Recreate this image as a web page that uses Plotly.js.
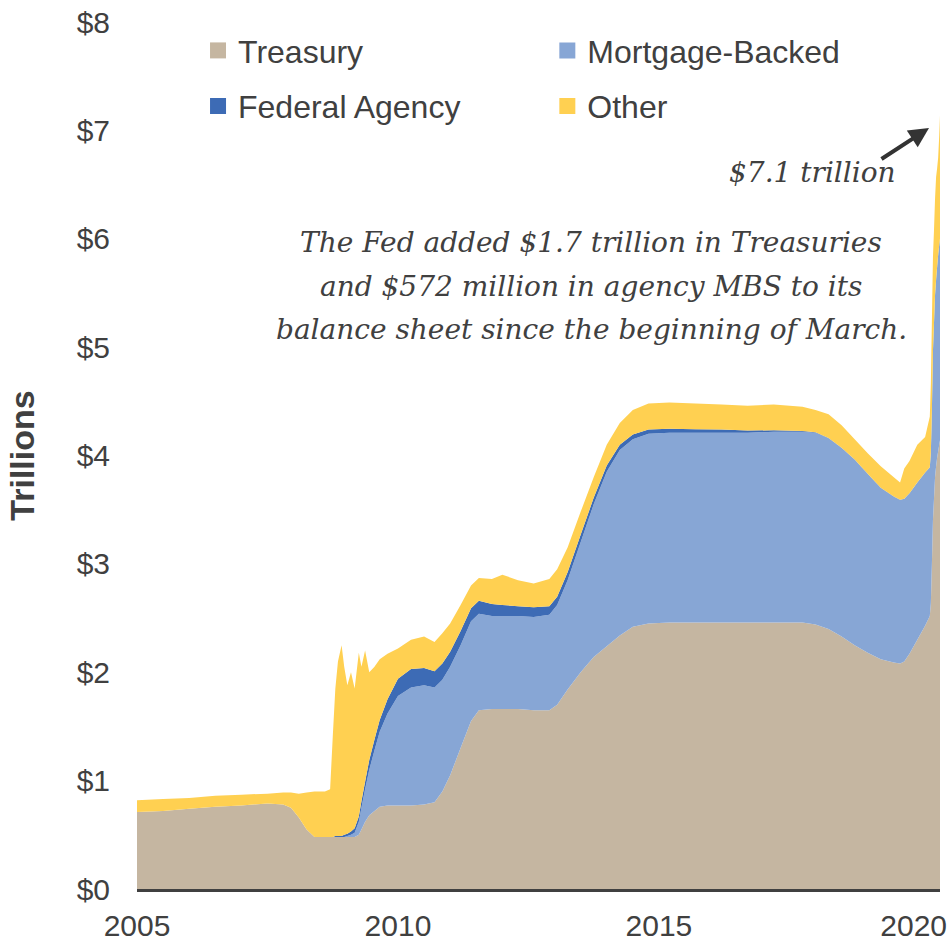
<!DOCTYPE html>
<html><head><meta charset="utf-8">
<script src="https://cdn.plot.ly/plotly-3.0.1.min.js"></script>
<style>html,body{margin:0;padding:0;background:#fff}#chart{width:949px;height:944px}</style>
</head><body><div id="chart"></div>
<script>
// Decimal years
const years = [2005.00,2005.50,2006.00,2006.50,2007.00,2007.50,2007.80,2007.95,2008.10,2008.25,
  2008.40,2008.60,2008.70,2008.75,2008.80,2008.85,2008.92,2008.97,2009.03,2009.10,
  2009.17,2009.25,2009.30,2009.37,2009.45,2009.55,2009.65,2009.80,2010.00,2010.25,
  2010.50,2010.70,2010.85,2011.00,2011.20,2011.40,2011.55,2011.80,2012.00,2012.30,
  2012.60,2012.90,2013.05,2013.25,2013.50,2013.75,2014.00,2014.25,2014.50,2014.80,
  2015.20,2015.70,2016.20,2016.70,2017.20,2017.75,2018.00,2018.25,2018.50,2018.75,
  2019.00,2019.25,2019.50,2019.62,2019.70,2019.80,2019.95,2020.10,2020.19,2020.21,
  2020.23,2020.25,2020.27,2020.29,2020.31,2020.33,2020.35,2020.37,2020.385];
// Trillions of dollars
const treasury = [0.71,0.72,0.74,0.76,0.77,0.79,0.78,0.75,0.66,0.55,
  0.48,0.48,0.48,0.48,0.48,0.48,0.48,0.48,0.48,0.48,
  0.48,0.50,0.55,0.62,0.68,0.72,0.76,0.77,0.77,0.77,
  0.78,0.80,0.90,1.05,1.30,1.55,1.65,1.66,1.66,1.66,
  1.65,1.65,1.70,1.84,2.00,2.14,2.24,2.34,2.42,2.45,
  2.46,2.46,2.46,2.46,2.46,2.46,2.44,2.40,2.33,2.25,
  2.18,2.12,2.09,2.08,2.10,2.17,2.30,2.43,2.52,2.64,
  3.00,3.40,3.60,3.80,3.90,3.98,4.04,4.10,4.14];
const mortgageBacked = [0,0,0,0,0,0,0,0,0,0,
  0,0,0,0,0,0,0,0,0.01,0.02,
  0.04,0.12,0.20,0.30,0.42,0.56,0.69,0.85,1.01,1.09,
  1.10,1.06,1.03,1.00,0.95,0.92,0.89,0.86,0.86,0.86,
  0.86,0.88,0.92,1.01,1.20,1.41,1.61,1.71,1.73,1.75,
  1.75,1.75,1.75,1.75,1.76,1.76,1.77,1.76,1.74,1.71,
  1.65,1.58,1.53,1.51,1.50,1.48,1.45,1.41,1.37,1.39,
  1.42,1.56,1.62,1.68,1.72,1.76,1.81,1.84,1.86];
const federalAgency = [0,0,0,0,0,0,0,0,0,0,
  0,0,0,0,0.01,0.01,0.01,0.02,0.02,0.03,
  0.04,0.05,0.06,0.07,0.09,0.10,0.11,0.13,0.16,0.17,
  0.16,0.15,0.15,0.14,0.13,0.12,0.12,0.11,0.10,0.09,
  0.09,0.08,0.077,0.073,0.068,0.06,0.057,0.05,0.043,0.04,
  0.037,0.033,0.03,0.02,0.013,0.006,0.004,0.002,0.002,0.002,
  0.002,0.002,0.002,0.002,0.002,0.002,0.002,0.002,0.002,0.002,
  0.002,0.002,0.002,0.002,0.002,0.002,0.002,0.002,0.002];
const other = [0.11,0.11,0.10,0.10,0.10,0.09,0.11,0.14,0.22,0.34,
  0.42,0.42,0.44,0.92,1.36,1.61,1.76,1.55,1.37,1.47,
  1.29,1.51,1.24,1.21,0.81,0.67,0.56,0.42,0.28,0.27,
  0.29,0.27,0.28,0.26,0.24,0.21,0.21,0.23,0.28,0.24,
  0.22,0.25,0.253,0.227,0.212,0.19,0.193,0.20,0.227,0.24,
  0.243,0.237,0.23,0.23,0.237,0.224,0.206,0.218,0.208,0.188,
  0.188,0.198,0.178,0.158,0.278,0.298,0.348,0.328,0.468,0.638,
  0.828,0.868,0.858,0.888,0.948,0.908,0.898,1.008,1.138];

const seriesNames = ['Treasury','Mortgage-Backed','Federal Agency','Other'];
const seriesColors = ['#C5B6A1','#87A6D5','#3D6BB5','#FFD051'];
const seriesValues = [treasury, mortgageBacked, federalAgency, other];
// the reference pulls its last year label slightly inside the right edge
const xTickVals = [2005, 2010, 2015, 2019.88];
const xTickText = ['2005', '2010', '2015', '2020'];
const yTickVals = [0,1,2,3,4,5,6,7,8];
const yTickText = ['$0','$1','$2','$3','$4','$5','$6','$7','$8'];

const textColor = '#404040';
const sans = 'Liberation Sans, Arial, sans-serif';
const serif = 'DejaVu Serif, serif';

const traces = seriesValues.map((vals, i) => ({
  type: 'scatter', x: years, y: vals, name: seriesNames[i],
  stackgroup: 'one', mode: 'none', fillcolor: seriesColors[i],
  line: {width: 0}, showlegend: false, hoverinfo: 'skip'
}));
// legend-only square swatches
const legendIds = ['legend', 'legend2', 'legend3', 'legend4'];
seriesNames.forEach((n, i) => {
  traces.push({type: 'scatter', x: [null], y: [null], mode: 'markers', name: n,
    marker: {symbol: 'square', size: 16, color: seriesColors[i]},
    showlegend: true, legend: legendIds[i]});
});

function leg(xp, yp) {
  return {x: xp, y: yp, xanchor: 'left', yanchor: 'middle', bgcolor: 'rgba(0,0,0,0)',
    borderwidth: 0, font: {family: sans, size: 32, color: textColor}, itemwidth: 30};
}

const annFont = {family: serif, size: 28, color: textColor, style: 'italic'};
const layout = {
  width: 949, height: 944,
  margin: {l: 137, r: 9, t: 22, b: 55},
  paper_bgcolor: '#fff', plot_bgcolor: '#fff',
  xaxis: {range: [2005, 2020.385], tickmode: 'array', tickvals: xTickVals, ticktext: xTickText,
    showgrid: false, zeroline: false, showline: true, linecolor: '#404040', linewidth: 3,
    ticks: '', ticklabelstandoff: 8, ticklabeloverflow: 'allow',
    tickfont: {family: sans, size: 30, color: textColor}},
  yaxis: {range: [0, 8], tickmode: 'array', tickvals: yTickVals, ticktext: yTickText,
    showgrid: false, zeroline: false,
    showline: false, ticks: '', ticklabelstandoff: 26,
    tickfont: {family: sans, size: 30, color: textColor},
    title: {text: '<b>Trillions</b>', font: {family: sans, size: 34, color: textColor}, standoff: 31}},
  legend: leg(0.076, 0.967),
  legend2: {...leg(0.511, 0.967)},
  legend3: {...leg(0.076, 0.903)},
  legend4: {...leg(0.511, 0.903)},
  annotations: [
    {xref: 'paper', yref: 'paper', x: (898-137)/803, y: (889-172)/867, xanchor: 'right', yanchor: 'middle',
      text: '$7.1 trillion', showarrow: false, font: annFont},
    {xref: 'paper', yref: 'paper', x: (929-137)/803, y: (889-128)/867, text: '', showarrow: true,
      ax: -49, ay: 32, arrowhead: 2, arrowsize: 1, arrowwidth: 4, arrowcolor: '#333333', standoff: 0},
    {xref: 'paper', yref: 'paper', x: (591-137)/803, y: (889-243)/867, xanchor: 'center', yanchor: 'middle',
      text: 'The Fed added $1.7 trillion in Treasuries', showarrow: false, font: annFont},
    {xref: 'paper', yref: 'paper', x: (591-137)/803, y: (889-286)/867, xanchor: 'center', yanchor: 'middle',
      text: 'and $572 million in agency MBS to its', showarrow: false, font: annFont},
    {xref: 'paper', yref: 'paper', x: (591-137)/803, y: (889-329)/867, xanchor: 'center', yanchor: 'middle',
      text: 'balance sheet since the beginning of March.', showarrow: false, font: annFont}
  ]
};
Plotly.newPlot('chart', traces, layout, {displayModeBar: false, staticPlot: true});
</script>
</body></html>
